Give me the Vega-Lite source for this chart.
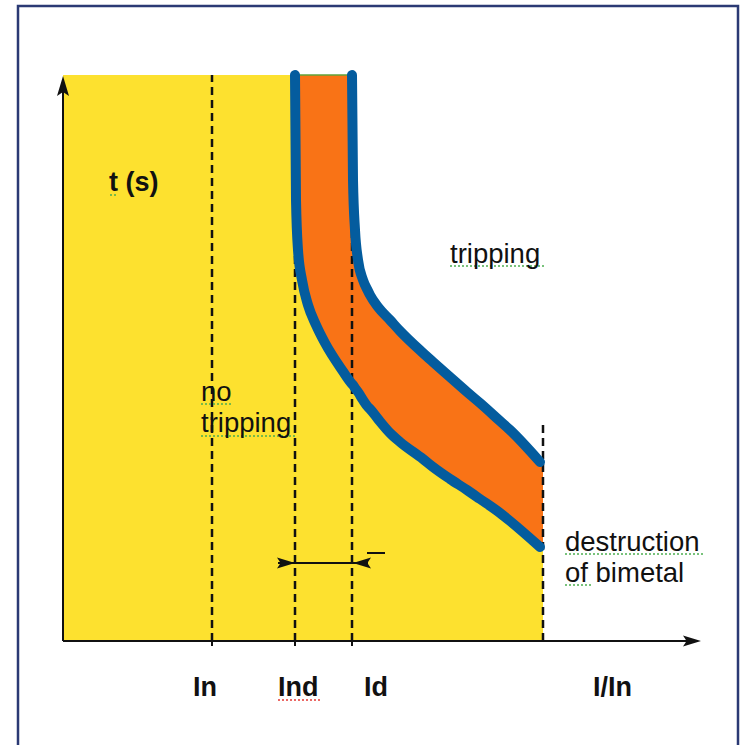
{
  "$schema": "https://vega.github.io/schema/vega-lite/v6.json",
  "width": 746,
  "height": 745,
  "autosize": {"type": "fit", "contains": "padding"},
  "padding": 0,
  "background": "white",
  "config": {"view": {"stroke": null}},
  "datasets": {
    "frame": [{"x1": -45, "x2": 675, "y1": 635, "y2": -120}],
    "yellow": [
      {"x": 0, "t": 566}, {"x": 232, "t": 566}, {"x": 233, "t": 441}, {"x": 235, "t": 391},
      {"x": 239, "t": 361}, {"x": 245, "t": 336}, {"x": 253, "t": 316}, {"x": 262, "t": 298},
      {"x": 279, "t": 271}, {"x": 289, "t": 257}, {"x": 290, "t": 256}, {"x": 292, "t": 253},
      {"x": 295, "t": 249}, {"x": 300, "t": 241}, {"x": 305, "t": 234},
      {"x": 307, "t": 232}, {"x": 315, "t": 222}, {"x": 327, "t": 208}, {"x": 337, "t": 199},
      {"x": 360, "t": 182}, {"x": 370, "t": 174}, {"x": 387, "t": 162}, {"x": 404, "t": 151},
      {"x": 417, "t": 142}, {"x": 437, "t": 128}, {"x": 447, "t": 120}, {"x": 477, "t": 94},
      {"x": 480, "t": 92}
    ],
    "band": [
      {"x": 232, "lo": 566, "hi": 566}, {"x": 233, "lo": 441, "hi": 566}, {"x": 235, "lo": 391, "hi": 566},
      {"x": 239, "lo": 361, "hi": 566}, {"x": 245, "lo": 336, "hi": 566}, {"x": 253, "lo": 316, "hi": 566},
      {"x": 262, "lo": 298, "hi": 566}, {"x": 279, "lo": 271, "hi": 566}, {"x": 289, "lo": 257, "hi": 566},
      {"x": 290, "lo": 256, "hi": 461}, {"x": 292, "lo": 253, "hi": 411}, {"x": 295, "lo": 249, "hi": 381},
      {"x": 300, "lo": 241, "hi": 361}, {"x": 305, "lo": 234, "hi": 350}, {"x": 307, "lo": 232, "hi": 346},
      {"x": 315, "lo": 222, "hi": 334}, {"x": 327, "lo": 208, "hi": 321}, {"x": 337, "lo": 199, "hi": 310},
      {"x": 360, "lo": 182, "hi": 288}, {"x": 370, "lo": 174, "hi": 279}, {"x": 387, "lo": 162, "hi": 264},
      {"x": 404, "lo": 151, "hi": 249}, {"x": 417, "lo": 142, "hi": 238}, {"x": 437, "lo": 128, "hi": 220},
      {"x": 447, "lo": 120, "hi": 211}, {"x": 477, "lo": 94, "hi": 179}, {"x": 480, "lo": 92, "hi": 177}
    ],
    "curves": [
      {"curve": "Ind", "x": 232, "y": 566}, {"curve": "Ind", "x": 233, "y": 441}, {"curve": "Ind", "x": 235, "y": 391},
      {"curve": "Ind", "x": 239, "y": 361}, {"curve": "Ind", "x": 245, "y": 336}, {"curve": "Ind", "x": 253, "y": 316},
      {"curve": "Ind", "x": 262, "y": 298}, {"curve": "Ind", "x": 279, "y": 271}, {"curve": "Ind", "x": 289, "y": 257},
      {"curve": "Ind", "x": 290, "y": 256}, {"curve": "Ind", "x": 292, "y": 253}, {"curve": "Ind", "x": 295, "y": 249},
      {"curve": "Ind", "x": 300, "y": 241}, {"curve": "Ind", "x": 305, "y": 234}, {"curve": "Ind", "x": 307, "y": 232},
      {"curve": "Ind", "x": 315, "y": 222}, {"curve": "Ind", "x": 327, "y": 208}, {"curve": "Ind", "x": 337, "y": 199},
      {"curve": "Ind", "x": 360, "y": 182}, {"curve": "Ind", "x": 370, "y": 174}, {"curve": "Ind", "x": 387, "y": 162},
      {"curve": "Ind", "x": 404, "y": 151}, {"curve": "Ind", "x": 417, "y": 142}, {"curve": "Ind", "x": 437, "y": 128},
      {"curve": "Ind", "x": 447, "y": 120}, {"curve": "Ind", "x": 477, "y": 94},
      {"curve": "Id", "x": 289, "y": 566}, {"curve": "Id", "x": 290, "y": 461}, {"curve": "Id", "x": 292, "y": 411},
      {"curve": "Id", "x": 295, "y": 381}, {"curve": "Id", "x": 300, "y": 361}, {"curve": "Id", "x": 305, "y": 350},
      {"curve": "Id", "x": 307, "y": 346}, {"curve": "Id", "x": 315, "y": 334}, {"curve": "Id", "x": 327, "y": 321},
      {"curve": "Id", "x": 337, "y": 310}, {"curve": "Id", "x": 360, "y": 288}, {"curve": "Id", "x": 370, "y": 279},
      {"curve": "Id", "x": 387, "y": 264}, {"curve": "Id", "x": 404, "y": 249}, {"curve": "Id", "x": 417, "y": 238},
      {"curve": "Id", "x": 437, "y": 220}, {"curve": "Id", "x": 447, "y": 211}, {"curve": "Id", "x": 477, "y": 179}
    ],
    "bandTop": [{"x0": 232, "x1": 289, "y": 566}],
    "dashes": [
      {"x": 149, "y0": 0, "y1": 566}, {"x": 232, "y0": 0, "y1": 566},
      {"x": 289, "y0": 0, "y1": 566}, {"x": 480, "y0": 0, "y1": 221}
    ],
    "axes": [
      {"x0": 0, "x1": 632, "y0": 0, "y1": 0},
      {"x0": 0, "x1": 0, "y0": 0, "y1": 556}
    ],
    "ticks": [{"x": 149}, {"x": 232}, {"x": 289}],
    "bracket": [{"x0": 215, "x1": 305, "y": 78}],
    "minus": [{"x0": 304, "x1": 322, "y": 88}],
    "arrowsRight": [{"x": 629, "y": 0}, {"x": 223, "y": 78}],
    "arrowsLeft": [{"x": 299, "y": 78}],
    "arrowsUp": [{"x": 0, "y": 555}],
    "greenWavy": [
      {"x0": 47, "x1": 55, "y": 446},
      {"x0": 387, "x1": 482, "y": 375},
      {"x0": 138, "x1": 168, "y": 237},
      {"x0": 138, "x1": 232, "y": 205},
      {"x0": 502, "x1": 642, "y": 87},
      {"x0": 502, "x1": 529, "y": 56}
    ],
    "redWavy": [{"x0": 215, "x1": 257, "y": -59}],
    "boldText": [
      {"label": "t (s)", "x": 46, "y": 450},
      {"label": "In", "x": 130, "y": -55},
      {"label": "Ind", "x": 215, "y": -55},
      {"label": "Id", "x": 301, "y": -55},
      {"label": "I/In", "x": 530, "y": -55}
    ],
    "plainText": [
      {"label": "tripping", "x": 387, "y": 378},
      {"label": "no", "x": 138, "y": 240},
      {"label": "tripping", "x": 138, "y": 209},
      {"label": "destruction", "x": 502, "y": 90},
      {"label": "of bimetal", "x": 502, "y": 59}
    ]
  },
  "layer": [
    {
      "data": {"name": "frame"},
      "mark": {"type": "rect", "fill": null, "fillOpacity": 0, "stroke": "#2B3A74", "strokeWidth": 2.5, "clip": true},
      "encoding": {
        "x": {"field": "x1", "type": "quantitative", "scale": {"domain": [-63, 683], "nice": false, "zero": false}, "axis": null},
        "x2": {"field": "x2"},
        "y": {"field": "y1", "type": "quantitative", "scale": {"domain": [-104, 641], "nice": false, "zero": false}, "axis": null},
        "y2": {"field": "y2"}
      }
    },
    {
      "data": {"name": "yellow"},
      "mark": {"type": "area", "color": "#FDE12F", "opacity": 1, "interpolate": "monotone"},
      "encoding": {
        "x": {"field": "x", "type": "quantitative", "axis": null},
        "y": {"field": "t", "type": "quantitative", "axis": null, "stack": null},
        "y2": {"datum": 0}
      }
    },
    {
      "data": {"name": "band"},
      "mark": {"type": "area", "color": "#F97316", "opacity": 1, "interpolate": "monotone"},
      "encoding": {
        "x": {"field": "x", "type": "quantitative", "axis": null},
        "y": {"field": "hi", "type": "quantitative", "axis": null, "stack": null},
        "y2": {"field": "lo"}
      }
    },
    {
      "data": {"name": "bandTop"},
      "mark": {"type": "rule", "color": "#5FA33A", "strokeWidth": 1.5},
      "encoding": {
        "x": {"field": "x0", "type": "quantitative", "axis": null},
        "x2": {"field": "x1"},
        "y": {"field": "y", "type": "quantitative", "axis": null}
      }
    },
    {
      "data": {"name": "dashes"},
      "mark": {"type": "rule", "color": "#111111", "strokeWidth": 2.5, "strokeDash": [8, 5]},
      "encoding": {
        "x": {"field": "x", "type": "quantitative", "axis": null},
        "y": {"field": "y0", "type": "quantitative", "axis": null},
        "y2": {"field": "y1"}
      }
    },
    {
      "data": {"name": "curves"},
      "mark": {"type": "line", "color": "#045C9E", "strokeWidth": 10, "strokeCap": "round", "strokeJoin": "round", "interpolate": "monotone"},
      "encoding": {
        "x": {"field": "x", "type": "quantitative", "axis": null},
        "y": {"field": "y", "type": "quantitative", "axis": null},
        "detail": {"field": "curve"}
      }
    },
    {
      "data": {"name": "axes"},
      "mark": {"type": "rule", "color": "#111111", "strokeWidth": 2},
      "encoding": {
        "x": {"field": "x0", "type": "quantitative", "axis": null},
        "x2": {"field": "x1"},
        "y": {"field": "y0", "type": "quantitative", "axis": null},
        "y2": {"field": "y1"}
      }
    },
    {
      "data": {"name": "ticks"},
      "mark": {"type": "rule", "color": "#111111", "strokeWidth": 2},
      "encoding": {
        "x": {"field": "x", "type": "quantitative", "axis": null},
        "y": {"datum": 0, "type": "quantitative", "axis": null},
        "y2": {"datum": -5}
      }
    },
    {
      "data": {"name": "bracket"},
      "mark": {"type": "rule", "color": "#111111", "strokeWidth": 2},
      "encoding": {
        "x": {"field": "x0", "type": "quantitative", "axis": null},
        "x2": {"field": "x1"},
        "y": {"field": "y", "type": "quantitative", "axis": null}
      }
    },
    {
      "data": {"name": "minus"},
      "mark": {"type": "rule", "color": "#111111", "strokeWidth": 2},
      "encoding": {
        "x": {"field": "x0", "type": "quantitative", "axis": null},
        "x2": {"field": "x1"},
        "y": {"field": "y", "type": "quantitative", "axis": null}
      }
    },
    {
      "data": {"name": "arrowsRight"},
      "mark": {"type": "point", "shape": "M1,0L-1,0.6L-0.6,0L-1,-0.6Z", "filled": true, "color": "#111111", "size": 324, "opacity": 1},
      "encoding": {
        "x": {"field": "x", "type": "quantitative", "axis": null},
        "y": {"field": "y", "type": "quantitative", "axis": null}
      }
    },
    {
      "data": {"name": "arrowsLeft"},
      "mark": {"type": "point", "shape": "M-1,0L1,0.6L0.6,0L1,-0.6Z", "filled": true, "color": "#111111", "size": 324, "opacity": 1},
      "encoding": {
        "x": {"field": "x", "type": "quantitative", "axis": null},
        "y": {"field": "y", "type": "quantitative", "axis": null}
      }
    },
    {
      "data": {"name": "arrowsUp"},
      "mark": {"type": "point", "shape": "M0,-1L0.6,1L0,0.6L-0.6,1Z", "filled": true, "color": "#111111", "size": 400, "opacity": 1},
      "encoding": {
        "x": {"field": "x", "type": "quantitative", "axis": null},
        "y": {"field": "y", "type": "quantitative", "axis": null}
      }
    },
    {
      "data": {"name": "greenWavy"},
      "mark": {"type": "rule", "color": "#4CAF50", "strokeWidth": 1.5, "strokeDash": [2, 2]},
      "encoding": {
        "x": {"field": "x0", "type": "quantitative", "axis": null},
        "x2": {"field": "x1"},
        "y": {"field": "y", "type": "quantitative", "axis": null}
      }
    },
    {
      "data": {"name": "redWavy"},
      "mark": {"type": "rule", "color": "#E53935", "strokeWidth": 1.5, "strokeDash": [2, 2]},
      "encoding": {
        "x": {"field": "x0", "type": "quantitative", "axis": null},
        "x2": {"field": "x1"},
        "y": {"field": "y", "type": "quantitative", "axis": null}
      }
    },
    {
      "data": {"name": "boldText"},
      "mark": {"type": "text", "font": "Liberation Sans", "fontSize": 27, "fontWeight": "bold", "align": "left", "baseline": "alphabetic", "color": "#111111"},
      "encoding": {
        "x": {"field": "x", "type": "quantitative", "axis": null},
        "y": {"field": "y", "type": "quantitative", "axis": null},
        "text": {"field": "label"}
      }
    },
    {
      "data": {"name": "plainText"},
      "mark": {"type": "text", "font": "Liberation Sans", "fontSize": 27.5, "align": "left", "baseline": "alphabetic", "color": "#111111"},
      "encoding": {
        "x": {"field": "x", "type": "quantitative", "axis": null},
        "y": {"field": "y", "type": "quantitative", "axis": null},
        "text": {"field": "label"}
      }
    }
  ]
}
